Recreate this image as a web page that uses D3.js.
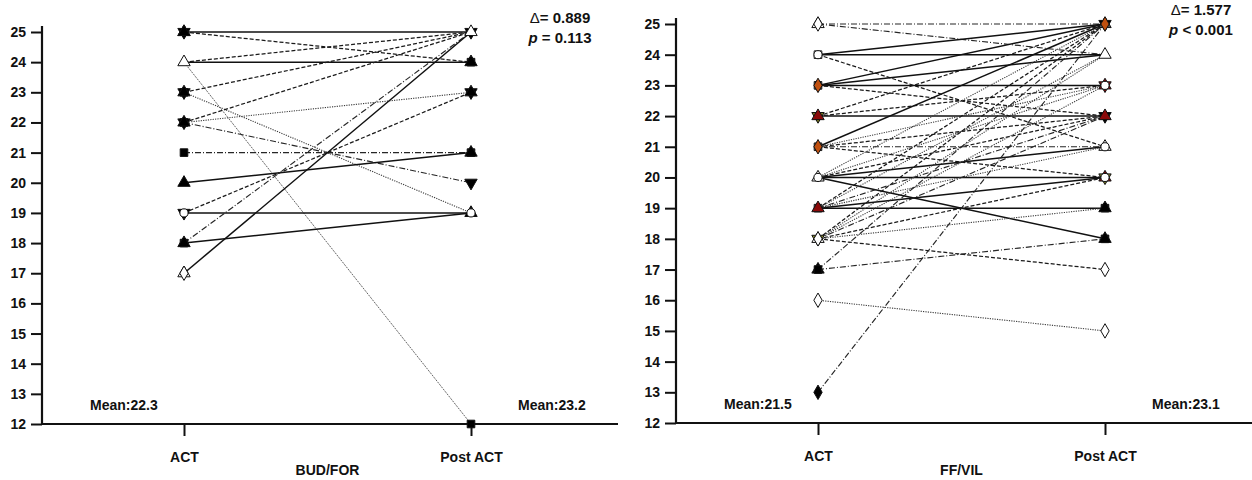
<!DOCTYPE html>
<html>
<head>
<meta charset="utf-8">
<script src="https://cdn.jsdelivr.net/npm/d3@7"></script>
<style>
  body { margin: 0; background: #fff; }
  text { font-family: 'Liberation Sans', Arial, sans-serif; font-weight: bold; fill: #111; }
</style>
</head>
<body>
<div id="chart"></div>
<script>
// Data
const timepoints = ['ACT', 'Post ACT'];
const yTicks = [12, 13, 14, 15, 16, 17, 18, 19, 20, 21, 22, 23, 24, 25];

// BUD/FOR panel: one entry per patient (ACT, Post ACT, line style)
const budAct = [25, 25, 24, 24, 24, 23, 23, 22, 22, 22, 21, 20, 19, 19, 18, 18, 17];
const budPost = [25, 24, 25, 24, 12, 25, 19, 25, 23, 20, 21, 21, 19, 23, 19, 25, 25];
const budStyle = ['solid', 'dashed', 'dashed', 'solid', 'thin', 'dashed', 'dotted', 'dashed', 'dotted',
  'dashdot', 'dashdot', 'solid', 'solid', 'dashed', 'solid', 'dashdot', 'solid'];
// markers [value, shape, fill]
const budActMarks = [
  [25, 'triangle', '#fff'], [25, 'triangleDown', '#000'], [25, 'triangle', '#000'],
  [24, 'triangle', '#fff'],
  [23, 'square', '#000'], [23, 'triangleDown', '#000'], [23, 'triangle', '#000'],
  [22, 'square', '#000'], [22, 'triangleDown', '#000'], [22, 'triangle', '#000'],
  [21, 'square', '#000'],
  [20, 'triangle', '#000'],
  [19, 'triangleDown', '#000'], [19, 'circle', '#fff'],
  [18, 'square', '#000'], [18, 'triangle', '#000'],
  [17, 'triangle', '#fff'], [17, 'diamond', '#fff'],
];
const budPostMarks = [
  [25, 'triangleDown', '#000'], [25, 'triangle', '#fff'],
  [24, 'square', '#000'], [24, 'triangle', '#000'],
  [23, 'triangleDown', '#000'], [23, 'triangle', '#000'],
  [21, 'square', '#000'], [21, 'triangle', '#000'],
  [20, 'triangleDown', '#000'],
  [19, 'triangle', '#000'], [19, 'circle', '#fff'],
  [12, 'square', '#000'],
];

// FF/VIL panel
const ffAct = [25, 25, 24, 24, 24, 23, 23, 23, 23, 22, 22, 22, 21, 21, 21, 21, 21, 20, 20, 20,
  20, 20, 20, 19, 19, 19, 19, 19, 19, 18, 18, 18, 18, 18, 18, 18, 17, 17, 16, 13];
const ffPost = [25, 24, 25, 24, 21, 25, 24, 23, 22, 25, 22, 23, 25, 21, 23, 22, 20, 25, 20, 21,
  18, 23, 22, 19, 20, 25, 24, 22, 21, 25, 23, 22, 20, 19, 17, 24, 25, 18, 15, 25];
const ffStyle = ['dashdot', 'dashdot', 'solid', 'solid', 'dashed', 'solid', 'solid', 'solid', 'dashed', 'dashed',
  'solid', 'dashed', 'solid', 'dashdot', 'dotted', 'dashed', 'dashed', 'dotted', 'solid', 'solid',
  'solid', 'dotted', 'dashed', 'solid', 'solid', 'dashed', 'dotted', 'dashdot', 'dotted', 'dashed',
  'dotted', 'dashdot', 'dashed', 'dotted', 'dashed', 'dotted', 'dashdot', 'dashdot', 'dotted', 'dashdot'];
const ffActMarks = [
  [25, 'triangle', '#fff'], [25, 'diamond', '#fff'],
  [24, 'square', '#fff'], [24, 'circle', '#fff'],
  [23, 'square', '#888'], [23, 'diamond', '#c0500f'],
  [22, 'triangleDown', '#7a7a20'], [22, 'triangle', '#8b0a0a'],
  [21, 'square', '#888'], [21, 'diamond', '#c0500f'],
  [20, 'triangle', '#fff'], [20, 'circle', '#fff'],
  [19, 'square', '#888'], [19, 'triangle', '#8b0a0a'],
  [18, 'triangleDown', '#8b8b2a'], [18, 'triangle', '#fff'], [18, 'diamond', '#fff'],
  [17, 'triangle', '#000'], [17, 'square', '#000'],
  [16, 'diamond', '#fff'],
  [13, 'diamond', '#000'],
];
const ffPostMarks = [
  [25, 'triangleDown', '#000'], [25, 'triangle', '#555'], [25, 'diamond', '#c0500f'],
  [24, 'triangle', '#fff'],
  [23, 'triangleDown', '#8b0a0a'], [23, 'triangle', '#8b0a0a'], [23, 'circle', '#fff'],
  [22, 'triangleDown', '#000'], [22, 'triangle', '#8b0a0a'],
  [21, 'triangle', '#fff'], [21, 'circle', '#fff'],
  [20, 'triangleDown', '#8b8b2a'], [20, 'triangle', '#8b0a0a'], [20, 'circle', '#fff'],
  [19, 'square', '#000'], [19, 'triangle', '#000'],
  [18, 'square', '#000'], [18, 'triangle', '#000'],
  [17, 'diamond', '#fff'],
  [15, 'diamond', '#fff'],
];

const panelNames = ['BUD/FOR', 'FF/VIL'];
const meanAct = ['22.3', '21.5'];
const meanPost = ['23.2', '23.1'];
const deltas = ['0.889', '1.577'];
const pValues = ['= 0.113', '< 0.001'];

const width = 1252;
const height = 480;

const svg = d3
  .select('#chart')
  .append('svg')
  .attr('width', width)
  .attr('height', height)
  .attr('viewBox', [0, 0, width, height]);

const dash = {
  solid: null,
  dashed: '4,2',
  dashdot: '6,2,1,2',
  dotted: '1.2,1.2',
  thin: '2,1',
};
const strokeW = { solid: 1.5, dashed: 1.25, dashdot: 1.15, dotted: 1.1, thin: 0.9 };
const strokeC = { solid: '#111', dashed: '#1a1a1a', dashdot: '#262626', dotted: '#3a3a3a', thin: '#555' };

const shapes = {
  triangle: [d3.symbolTriangle, 0, 66],
  triangleDown: [d3.symbolTriangle, 180, 66],
  square: [d3.symbolSquare, 0, 58],
  diamond: [d3.symbolDiamond, 0, 60],
  circle: [d3.symbolCircle, 0, 52],
};

function drawPanel(cfg) {
  const g = svg.append('g');

  const y = d3.scaleLinear().domain([12, 25]).range([cfg.yBottom, cfg.yTop]);
  const x = d3.scalePoint().domain(timepoints).range([cfg.axisX + 142, cfg.axisX + 429]);

  // y axis
  const yAxis = g
    .append('g')
    .attr('transform', `translate(${cfg.axisX},0)`)
    .call(d3.axisLeft(y).tickValues(yTicks).tickSize(11).tickPadding(5).tickSizeOuter(0));
  yAxis.select('.domain').remove();
  yAxis.selectAll('.tick line').attr('stroke', '#111').attr('stroke-width', 2);
  yAxis.selectAll('.tick text').style('font-size', '14px').attr('fill', '#111');
  g.append('line')
    .attr('x1', cfg.axisX)
    .attr('x2', cfg.axisX)
    .attr('y1', cfg.yBottom)
    .attr('y2', cfg.yTop - 6)
    .attr('stroke', '#111')
    .attr('stroke-width', 2.2);

  // x axis
  const xAxis = g
    .append('g')
    .attr('transform', `translate(0,${cfg.yBottom})`)
    .call(d3.axisBottom(x).tickSize(12).tickPadding(16).tickSizeOuter(0));
  xAxis.select('.domain').remove();
  xAxis.selectAll('.tick line').attr('stroke', '#111').attr('stroke-width', 2);
  xAxis.selectAll('.tick text').style('font-size', '14px').attr('fill', '#111');
  g.append('line')
    .attr('x1', cfg.axisX)
    .attr('x2', cfg.xEnd)
    .attr('y1', cfg.yBottom)
    .attr('y2', cfg.yBottom)
    .attr('stroke', '#111')
    .attr('stroke-width', 2.2);

  g.append('text')
    .attr('x', (x('ACT') + x('Post ACT')) / 2)
    .attr('y', 475)
    .attr('text-anchor', 'middle')
    .style('font-size', '14px')
    .text(cfg.name);

  // patient lines
  const pairs = cfg.act.map((a, i) => [a, cfg.post[i], cfg.style[i]]);
  g.append('g')
    .selectAll('line')
    .data(pairs)
    .join('line')
    .attr('x1', x('ACT'))
    .attr('x2', x('Post ACT'))
    .attr('y1', (d) => y(d[0]))
    .attr('y2', (d) => y(d[1]))
    .attr('stroke', (d) => strokeC[d[2]])
    .attr('stroke-width', (d) => strokeW[d[2]])
    .attr('stroke-dasharray', (d) => dash[d[2]]);

  // markers
  const marks = [
    ...cfg.actMarks.map((m) => ['ACT', ...m]),
    ...cfg.postMarks.map((m) => ['Post ACT', ...m]),
  ];
  g.append('g')
    .selectAll('path')
    .data(marks)
    .join('path')
    .attr('d', (d) => d3.symbol(shapes[d[2]][0], shapes[d[2]][2])())
    .attr('transform', (d) => `translate(${x(d[0])},${y(d[1])}) rotate(${shapes[d[2]][1]})`)
    .attr('fill', (d) => d[3])
    .attr('stroke', '#111')
    .attr('stroke-width', 1);

  // means
  g.append('text')
    .attr('x', cfg.axisX + 48)
    .attr('y', y(12) - 14)
    .style('font-size', '14px')
    .text(`Mean:${cfg.meanAct}`);
  g.append('text')
    .attr('x', x('Post ACT') + 47)
    .attr('y', y(12) - 14)
    .style('font-size', '14px')
    .text(`Mean:${cfg.meanPost}`);

  // stats
  const st = g.append('text')
    .attr('x', cfg.statX)
    .attr('y', cfg.statY)
    .attr('text-anchor', 'middle')
    .style('font-size', '15px');
  st.append('tspan').style('font-weight', 'normal').text('\u0394');
  st.append('tspan').text(`= ${cfg.delta}`);
  const pt = g.append('text')
    .attr('x', cfg.statX)
    .attr('y', cfg.statY + 20)
    .attr('text-anchor', 'middle')
    .style('font-size', '15px');
  pt.append('tspan').style('font-style', 'italic').text('p');
  pt.append('tspan').text(` ${cfg.p}`);
}

drawPanel({
  name: panelNames[0],
  axisX: 42, xEnd: 618, yTop: 32, yBottom: 424,
  act: budAct, post: budPost, style: budStyle,
  actMarks: budActMarks, postMarks: budPostMarks,
  meanAct: meanAct[0], meanPost: meanPost[0],
  delta: deltas[0], p: pValues[0], statX: 560, statY: 23,
});

drawPanel({
  name: panelNames[1],
  axisX: 676, xEnd: 1252, yTop: 24, yBottom: 423,
  act: ffAct, post: ffPost, style: ffStyle,
  actMarks: ffActMarks, postMarks: ffPostMarks,
  meanAct: meanAct[1], meanPost: meanPost[1],
  delta: deltas[1], p: pValues[1], statX: 1201, statY: 15,
});
</script>
</body>
</html>
